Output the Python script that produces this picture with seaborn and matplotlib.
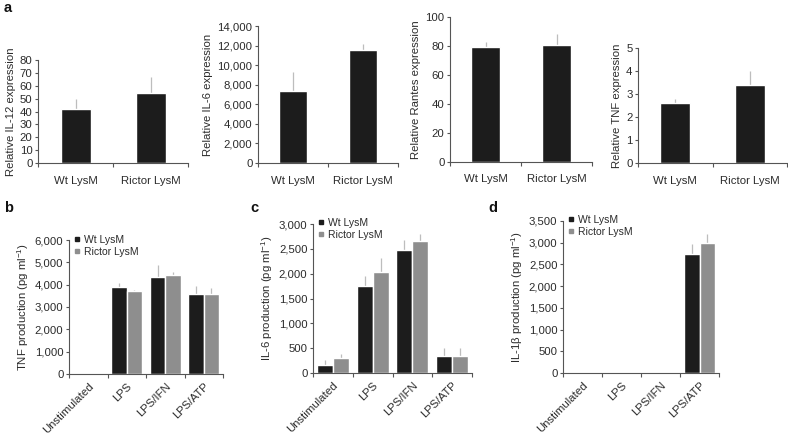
import numpy as np
import pandas as pd
import matplotlib
matplotlib.use("Agg")
import matplotlib.pyplot as plt
from matplotlib.ticker import FuncFormatter, FixedLocator
from matplotlib.lines import Line2D
import seaborn as sns

# ---------------- data ----------------
a_groups = ["Wt LysM", "Rictor LysM"]
il12_rel = [42, 54]
il12_rel_err = [8, 13]
il6_rel = [7400, 11500]
il6_rel_err = [1900, 700]
rantes_rel = [79.5, 81]
rantes_rel_err = [3.5, 7.5]
tnf_rel = [2.6, 3.4]
tnf_rel_err = [0.18, 0.62]

conditions = ["Unstimulated", "LPS", "LPS/IFN", "LPS/ATP"]
genotypes = ["Wt LysM", "Rictor LysM"]
tnf_wt = [0, 3880, 4340, 3600]
tnf_wt_err = [0, 190, 560, 330]
tnf_ric = [0, 3700, 4450, 3600]
tnf_ric_err = [0, 80, 100, 250]
il6_wt = [166, 1742, 2470, 351]
il6_wt_err = [100, 210, 200, 160]
il6_ric = [298, 2026, 2655, 338]
il6_ric_err = [86, 280, 145, 172]
il1b_wt = [0, 0, 0, 2740]
il1b_wt_err = [0, 0, 0, 228]
il1b_ric = [0, 0, 0, 2983]
il1b_ric_err = [0, 0, 0, 228]

# ---------------- style ----------------
sns.set_style("ticks")
plt.rcParams["font.family"] = ["Liberation Sans", "DejaVu Sans"]
plt.rcParams["mathtext.fontset"] = "custom"
plt.rcParams["mathtext.rm"] = "Liberation Sans"
plt.rcParams["mathtext.it"] = "Liberation Sans:italic"
plt.rcParams["mathtext.bf"] = "Liberation Sans:bold"

TXT = "#2b2b2b"
SPINE = "#555555"
BLACK = "#1c1c1c"
GRAY = "#8e8e8e"
ERR = "#bdbdbd"
FS = 8.2

W, H = 788, 433
fig = plt.figure(figsize=(W / 100, H / 100), dpi=100)


def add_ax(l, r, t, b):
    return fig.add_axes([l / W, 1 - b / H, (r - l) / W, (b - t) / H])


def style_ax(ax, ymax, step, ylabel, ncat, xpad):
    sns.despine(ax=ax)
    for s in ("left", "bottom"):
        ax.spines[s].set_color(SPINE)
        ax.spines[s].set_linewidth(0.8)
    ax.set_ylim(0, ymax)
    ax.set_yticks(np.arange(0, ymax + step / 2, step))
    ax.yaxis.set_major_formatter(FuncFormatter(lambda v, p: f"{v:,.0f}"))
    ax.set_xlim(-0.5, ncat - 0.5)
    ax.xaxis.set_minor_locator(FixedLocator(np.arange(-0.5, ncat, 1.0)))
    ax.tick_params(axis="x", which="major", length=0, labelsize=FS, colors=TXT, pad=xpad)
    ax.tick_params(axis="x", which="minor", length=3, width=0.8, color=SPINE)
    ax.tick_params(axis="y", length=2.5, width=0.8, color=SPINE, labelsize=FS,
                   labelcolor=TXT, pad=1.5)
    ax.set_ylabel(ylabel, fontsize=FS, color=TXT, labelpad=3)
    ax.set_xlabel("")


def draw_err(ax, vals, errs):
    # bar patches in drawing order match the data order
    bars = [p for p in ax.patches]
    for p, v, e in zip(bars, vals, errs):
        if e > 0:
            x = p.get_x() + p.get_width() / 2
            h = p.get_height()
            ax.vlines(x, h, h + e, color=ERR, lw=0.9, zorder=1)


# ---------------- top row ----------------
top_specs = [
    ((38, 188, 60, 163), il12_rel, il12_rel_err, 80, 10, "Relative IL-12 expression"),
    ((258, 398, 26, 163), il6_rel, il6_rel_err, 14000, 2000, "Relative IL-6 expression"),
    ((450, 592, 17, 162), rantes_rel, rantes_rel_err, 100, 20, "Relative Rantes expression"),
    ((638, 787, 48, 163), tnf_rel, tnf_rel_err, 5, 1, "Relative TNF expression"),
]
for box, vals, errs, ymax, step, lab in top_specs:
    ax = add_ax(*box)
    df = pd.DataFrame({"group": a_groups, "value": vals})
    sns.barplot(data=df, x="group", y="value", color=BLACK, width=0.4,
                errorbar=None, ax=ax, zorder=2, saturation=1)
    draw_err(ax, vals, errs)
    style_ax(ax, ymax, step, lab, 2, 9)

# ---------------- bottom row ----------------
bot_specs = [
    ((69, 223, 240, 374), tnf_wt, tnf_wt_err, tnf_ric, tnf_ric_err, 6000, 1000,
     r"TNF production (pg ml$^{-1}$)"),
    ((313, 472, 224, 373), il6_wt, il6_wt_err, il6_ric, il6_ric_err, 3000, 500,
     r"IL-6 production (pg ml$^{-1}$)"),
    ((563, 719, 221, 373), il1b_wt, il1b_wt_err, il1b_ric, il1b_ric_err, 3500, 500,
     r"IL-1β production (pg ml$^{-1}$)"),
]
for box, wt, wte, ric, rice, ymax, step, lab in bot_specs:
    ax = add_ax(*box)
    df = pd.DataFrame({
        "condition": conditions * 2,
        "genotype": [genotypes[0]] * 4 + [genotypes[1]] * 4,
        "value": wt + ric,
    })
    sns.barplot(data=df, x="condition", y="value", hue="genotype",
                palette=[BLACK, GRAY], width=0.8, errorbar=None, ax=ax,
                zorder=2, saturation=1, legend=False)
    draw_err(ax, wt + ric, wte + rice)
    style_ax(ax, ymax, step, lab, 4, 5)
    ax.set_xticks(range(4))
    ax.set_xticklabels(conditions, rotation=45, ha="right",
                       rotation_mode="anchor", fontsize=FS, color=TXT)
    handles = [Line2D([], [], marker="s", ls="", color=c, markersize=3.2)
               for c in (BLACK, GRAY)]
    leg = ax.legend(handles, genotypes, loc="upper left", bbox_to_anchor=(0.02, 1.04),
                    frameon=False, fontsize=7.5, handletextpad=0.1, handlelength=1.0,
                    borderaxespad=0, labelspacing=0.2, borderpad=0)
    for t in leg.get_texts():
        t.set_color(TXT)

# ---------------- panel letters ----------------
for lx, ly, s in [(4, 12, "a"), (4, 212, "b"), (250, 212, "c"), (488, 212, "d")]:
    fig.text(lx / W, 1 - ly / H, s, fontsize=10.5, fontweight="bold", color="#111111",
             va="baseline")

fig.savefig("out.png", dpi=100)
